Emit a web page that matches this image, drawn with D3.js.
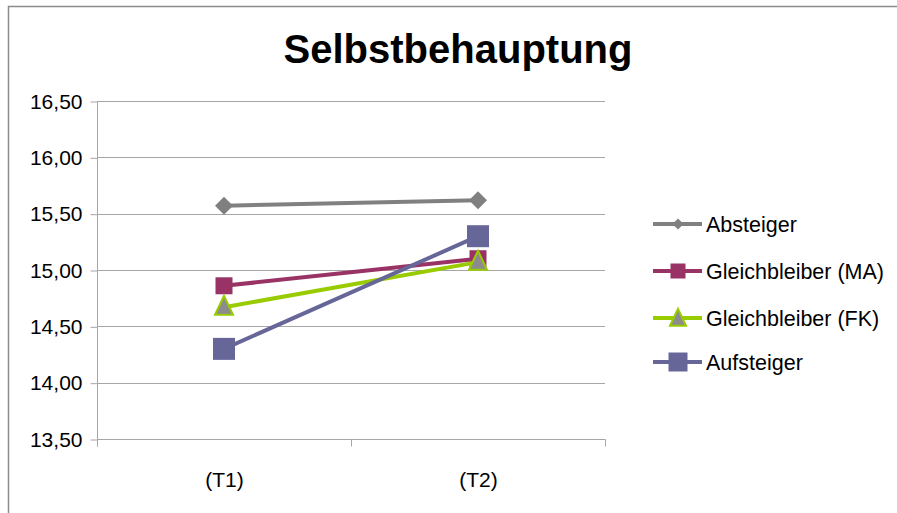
<!DOCTYPE html>
<html>
<head>
<meta charset="utf-8">
<script src="https://cdn.jsdelivr.net/npm/d3@7"></script>
<style>
  html, body { margin: 0; padding: 0; background: #fff; }
  svg { display: block; font-family: "Liberation Sans", Arial, sans-serif; }
</style>
</head>
<body>
<svg id="chart" width="897" height="513"></svg>
<script>
// Zeitpunkte
const categories = ["(T1)", "(T2)"];
// Mittelwerte je Gruppe
const absteiger = [15.57, 15.62];
const gleichMA = [14.86, 15.10];
const gleichFK = [14.67, 15.07];
const aufsteiger = [14.30, 15.30];
const seriesNames = ["Absteiger", "Gleichbleiber (MA)", "Gleichbleiber (FK)", "Aufsteiger"];
const yTicks = [13.5, 14.0, 14.5, 15.0, 15.5, 16.0, 16.5];
const titleText = "Selbstbehauptung";

const series = [
  { name: seriesNames[0], values: absteiger, color: "#808080", marker: "diamond", fill: "#808080", stroke: "none", size: 18, legendSize: 11 },
  { name: seriesNames[1], values: gleichMA, color: "#993366", marker: "square", fill: "#993366", stroke: "none", size: 17, legendSize: 15 },
  { name: seriesNames[2], values: gleichFK, color: "#99cc00", marker: "triangle", fill: "#8c8c8c", stroke: "#99cc00", size: 18, legendSize: 16 },
  { name: seriesNames[3], values: aufsteiger, color: "#666699", marker: "square", fill: "#666699", stroke: "none", size: 22, legendSize: 19 }
];

const svg = d3.select("#chart");

// Rahmen des Diagrammbereichs
svg.append("rect")
  .attr("x", 8.5).attr("y", 6.5)
  .attr("width", 1000).attr("height", 1000)
  .attr("fill", "none")
  .attr("stroke", "#8c8c8c")
  .attr("stroke-width", 1.5);

const plot = { left: 97, right: 605, top: 101, bottom: 439 };

const x = d3.scaleBand()
  .domain(categories)
  .range([plot.left, plot.right])
  .padding(0);

const y = d3.scaleLinear()
  .domain([13.5, 16.5])
  .range([plot.bottom, plot.top]);

const fmt = v => d3.format(".2f")(v).replace(".", ",");

// Gitternetzlinien
svg.append("g")
  .selectAll("line")
  .data(yTicks.filter(t => t > 13.5))
  .join("line")
  .attr("x1", plot.left).attr("x2", plot.right)
  .attr("y1", d => Math.round(y(d)) + 0.5).attr("y2", d => Math.round(y(d)) + 0.5)
  .attr("stroke", "#a6a6a6")
  .attr("stroke-width", 1);

// Y-Achse
const yAxis = svg.append("g")
  .attr("transform", `translate(${plot.left + 0.5},0.5)`)
  .call(d3.axisLeft(y).tickValues(yTicks).tickFormat(fmt).tickSize(7).tickPadding(8));
yAxis.select(".domain").attr("stroke", "#a6a6a6").attr("d", `M0,${plot.top}V${plot.bottom + 7}`);
yAxis.selectAll(".tick line").attr("stroke", "#a6a6a6");
yAxis.selectAll(".tick text")
  .attr("font-size", 21)
  .attr("fill", "#000")
  .style("font-family", "'Liberation Sans', Arial, sans-serif");

// X-Achse
const xAxis = svg.append("g")
  .attr("transform", `translate(0.5,${plot.bottom + 0.5})`);
xAxis.append("line")
  .attr("x1", plot.left).attr("x2", plot.right)
  .attr("stroke", "#a6a6a6");
const xEdges = [plot.left, ...categories.map(c => x(c) + x.bandwidth())];
xAxis.selectAll("line.edge")
  .data(xEdges)
  .join("line")
  .attr("class", "edge")
  .attr("x1", d => d).attr("x2", d => d)
  .attr("y1", 0).attr("y2", 7)
  .attr("stroke", "#a6a6a6");
xAxis.selectAll("text")
  .data(categories)
  .join("text")
  .attr("x", d => x(d) + x.bandwidth() / 2)
  .attr("y", 47)
  .attr("text-anchor", "middle")
  .attr("font-size", 21)
  .attr("fill", "#000")
  .text(d => d);

// Marker-Formen
function markerPath(type, s) {
  const h = s / 2;
  if (type === "diamond") return `M0,${-h}L${h},0L0,${h}L${-h},0Z`;
  if (type === "square") return `M${-h},${-h}H${h}V${h}H${-h}Z`;
  if (type === "triangle") {
    const th = s * 1.05;
    return `M0,${-th * 0.6}L${h},${th * 0.4}L${-h},${th * 0.4}Z`;
  }
}

const line = d3.line()
  .x((d, i) => x(categories[i]) + x.bandwidth() / 2)
  .y(d => y(d));

// Linien und Marker je Gruppe
series.forEach(s => {
  const g = svg.append("g");
  g.append("path")
    .attr("d", line(s.values))
    .attr("fill", "none")
    .attr("stroke", s.color)
    .attr("stroke-width", 4);
  g.selectAll("path.m")
    .data(s.values)
    .join("path")
    .attr("class", "m")
    .attr("transform", (d, i) => `translate(${x(categories[i]) + x.bandwidth() / 2},${y(d)})`)
    .attr("d", markerPath(s.marker, s.size))
    .attr("fill", s.fill)
    .attr("stroke", s.stroke)
    .attr("stroke-width", s.stroke === "none" ? 0 : 2);
});

// Legende
const legend = svg.append("g");
const legendRows = [224, 271, 318, 362];
series.forEach((s, i) => {
  const g = legend.append("g").attr("transform", `translate(0,${legendRows[i]})`);
  g.append("line")
    .attr("x1", 653).attr("x2", 702)
    .attr("stroke", s.color)
    .attr("stroke-width", 4);
  g.append("path")
    .attr("transform", `translate(678,${s.marker === "triangle" ? 1 : 0})`)
    .attr("d", markerPath(s.marker, s.legendSize))
    .attr("fill", s.fill)
    .attr("stroke", s.stroke)
    .attr("stroke-width", s.stroke === "none" ? 0 : 2);
  g.append("text")
    .attr("x", 706)
    .attr("y", 8)
    .attr("font-size", 21.5)
    .attr("fill", "#000")
    .text(s.name);
});

// Titel
svg.append("text")
  .attr("x", 458)
  .attr("y", 63)
  .attr("text-anchor", "middle")
  .attr("font-size", 40)
  .attr("font-weight", "bold")
  .attr("fill", "#000")
  .text(titleText);
</script>
</body>
</html>
